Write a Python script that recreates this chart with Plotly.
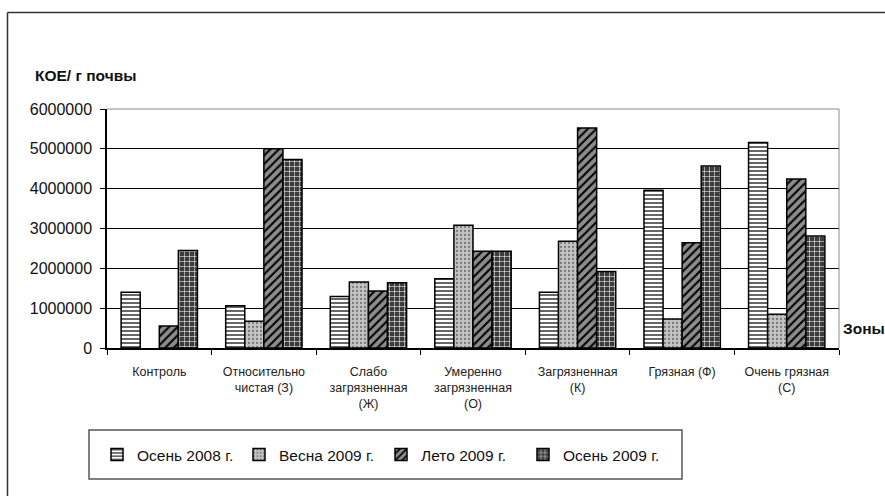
import plotly.graph_objects as go

categories = [
    "Контроль",
    "Относительно<br>чистая (З)",
    "Слабо<br>загрязненная<br>(Ж)",
    "Умеренно<br>загрязненная<br>(О)",
    "Загрязненная<br>(К)",
    "Грязная (Ф)",
    "Очень грязная<br>(С)",
]
series_names = ["Осень 2008 г.", "Весна 2009 г.", "Лето 2009 г.", "Осень 2009 г."]
autumn_2008 = [1400000, 1060000, 1290000, 1740000, 1400000, 3960000, 5160000]
spring_2009 = [None, 670000, 1660000, 3080000, 2680000, 730000, 850000]
summer_2009 = [550000, 5000000, 1430000, 2430000, 5520000, 2640000, 4240000]
autumn_2009 = [2450000, 4730000, 1640000, 2430000, 1920000, 4570000, 2810000]
y_ticks = [0, 1000000, 2000000, 3000000, 4000000, 5000000, 6000000]

FONT = "Liberation Sans, Arial, sans-serif"

styles = [
    dict(shape="-", bg="#ffffff", fg="#000000", size=4, sol=0.3),
    dict(shape=".", bg="#c4c4c4", fg="#7a7a7a", size=4, sol=0.25),
    dict(shape="/", bg="#8c8c8c", fg="#000000", size=6, sol=0.35),
    dict(shape="+", bg="#3c3c3c", fg="#ffffff", size=5, sol=0.2),
]

fig = go.Figure()
for name, vals, st in zip(series_names, [autumn_2008, spring_2009, summer_2009, autumn_2009], styles):
    fig.add_trace(go.Bar(
        name=name, x=categories, y=vals,
        marker=dict(
            color=st["bg"],
            line=dict(color="#000000", width=1.5),
            pattern=dict(shape=st["shape"], bgcolor=st["bg"], fgcolor=st["fg"],
                         size=st["size"], solidity=st["sol"], fillmode="replace"),
        ),
    ))

L, R, T, B = 107, 46, 109, 148
W, H = 885, 496
pw, ph = W - L - R, H - T - B

def px(x):
    return (x - L) / pw

def py(y):
    return (H - B - y) / ph

shapes = [
    dict(type="line", xref="paper", yref="paper", x0=px(7.5), x1=px(7.5), y0=py(12.5), y1=py(520),
         line=dict(color="#333333", width=1.5)),
    dict(type="line", xref="paper", yref="paper", x0=px(7.5), x1=px(900), y0=py(12.5), y1=py(12.5),
         line=dict(color="#333333", width=1.5)),
    dict(type="line", xref="paper", yref="paper", x0=0, x1=1, y0=1, y1=1,
         line=dict(color="#8a8a8a", width=1)),
    dict(type="line", xref="paper", yref="paper", x0=1, x1=1, y0=0, y1=1,
         line=dict(color="#8a8a8a", width=1)),
    dict(type="rect", xref="paper", yref="paper", x0=px(89), x1=px(682), y0=py(479), y1=py(430),
         line=dict(color="#555555", width=1.5)),
]

fig.update_layout(
    width=W, height=H,
    margin=dict(l=L, r=R, t=T, b=B, pad=0),
    paper_bgcolor="#ffffff", plot_bgcolor="#ffffff",
    font=dict(family=FONT, color="#111111"),
    barmode="group", bargap=0.27, bargroupgap=0,
    showlegend=True,
    legend=dict(orientation="h", x=px(97), y=py(438), xanchor="left", yanchor="top",
                font=dict(size=15.5, family=FONT, color="#111111"),
                bgcolor="rgba(0,0,0,0)", borderwidth=0, itemwidth=30,
                entrywidth=97, entrywidthmode="pixels",
                traceorder="normal"),
    shapes=shapes,
    annotations=[
        dict(text="<b>КОЕ/ г почвы</b>", xref="paper", yref="paper", x=px(33), y=py(75),
             xanchor="left", yanchor="middle", showarrow=False,
             font=dict(size=15.5, family=FONT, color="#111111")),
        dict(text="<b>Зоны</b>", xref="paper", yref="paper", x=px(841), y=py(328),
             xanchor="left", yanchor="middle", showarrow=False,
             font=dict(size=15.5, family=FONT, color="#111111")),
    ],
)

fig.update_xaxes(
    type="category", tickson="boundaries", ticks="outside", ticklen=5, tickcolor="#000000",
    showline=True, linecolor="#000000", linewidth=1.5, showgrid=False,
    tickfont=dict(size=12.5, family=FONT, color="#222222"), tickangle=0,
    ticklabelstandoff=11,
)
fig.update_yaxes(
    range=[0, 6000000], tickvals=y_ticks, ticktext=[str(v) for v in y_ticks],
    ticks="outside", ticklen=5, tickcolor="#000000",
    showline=True, linecolor="#000000", linewidth=1.5,
    showgrid=True, gridcolor="#000000", gridwidth=1, zeroline=False,
    tickfont=dict(size=16, family=FONT, color="#111111"),
    ticklabelstandoff=5,
)

fig.write_html("out.html")
